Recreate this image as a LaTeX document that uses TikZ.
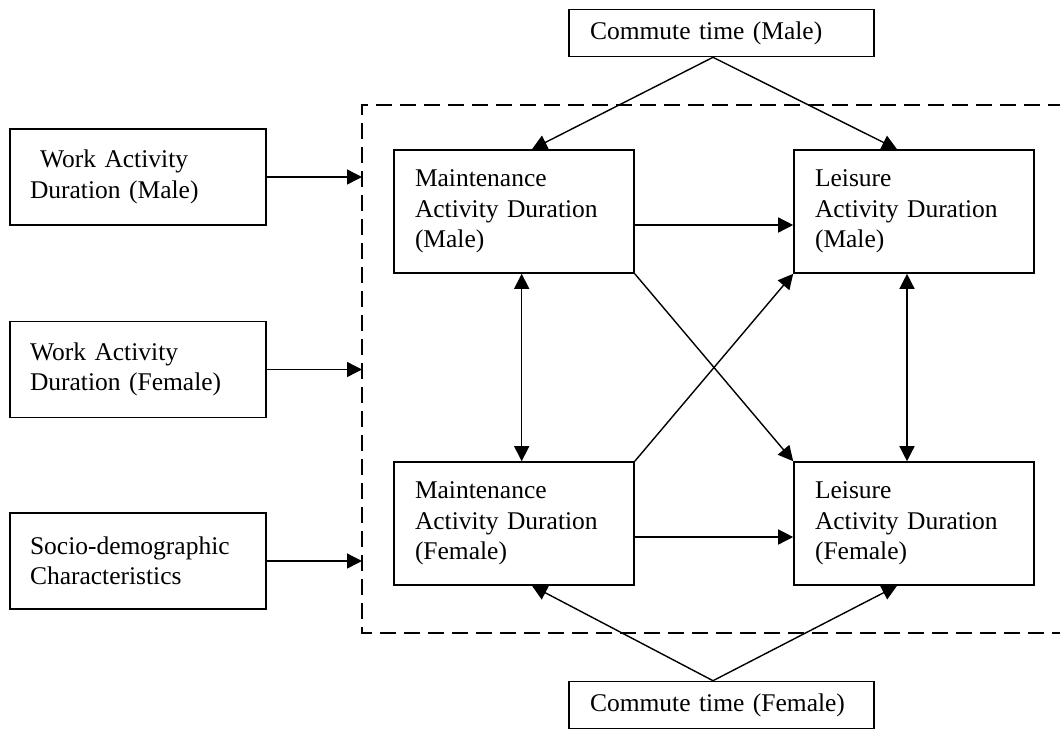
\documentclass[tikz,border=0pt]{standalone}
\usepackage{fontspec}
\setmainfont{Liberation Serif}
\usetikzlibrary{arrows.meta}
\begin{document}
\begin{tikzpicture}[x=1pt,y=-1pt,
  box/.style={draw, line width=1.6pt, align=left, inner ysep=0pt,
    font={\fontsize{25.5}{30.5}\selectfont\hyphenpenalty=10000}},
  midbox/.style={box, text width=198pt, inner xsep=21pt, minimum height=123pt},
  sidebox/.style={box, text width=216pt, inner xsep=20pt, minimum height=96pt},
  combox/.style={box, text width=263pt, inner xsep=21pt, minimum height=47pt},
  tipA/.tip={Triangle[length=15pt,width=15pt]},
  arr/.style={line width=1.4pt, -tipA},
  darr/.style={line width=1.4pt, tipA-tipA},
  dashframe/.style={line width=1.6pt, dash pattern=on 16pt off 8pt}]
\useasboundingbox (0,0) rectangle (1060,729);

% dashed frame
\draw[dashframe] (1064,105) -- (362,105) -- (362,633) -- (1064,633);
\coordinate (dashL) at (362,0);

% nodes
\node[combox] (cm) at (721.5,33) {Commute time (Male)};
\node[combox] (cf) at (721.5,705) {Commute time (Female)};

\node[sidebox] (wm) at (138,177) {\hspace*{10pt}Work Activity\\Duration (Male)};
\node[sidebox] (wf) at (138,369.5) {Work Activity\\Duration (Female)};
\node[sidebox] (sd) at (138,561) {Socio-demographic\\Characteristics};

\node[midbox] (mm) at (514,211.5) {Maintenance\\Activity Duration\\(Male)};
\node[midbox] (lm) at (914,211.5) {Leisure\\Activity Duration\\(Male)};
\node[midbox] (mf) at (514,523.5) {Maintenance\\Activity Duration\\(Female)};
\node[midbox] (lf) at (914,523.5) {Leisure\\Activity Duration\\(Female)};

% connectors
\draw[arr] (wm.east) -- (wm.east -| dashL);
\draw[arr] (wf.east) -- (wf.east -| dashL);
\draw[arr] (sd.east) -- (sd.east -| dashL);

\draw[arr] ([xshift=-8.5pt]cm.south) -- ([xshift=18pt]mm.north);
\draw[arr] ([xshift=-8.5pt]cm.south) -- ([xshift=-17pt]lm.north);
\draw[arr] ([xshift=-8.5pt]cf.north) -- ([xshift=18pt]mf.south);
\draw[arr] ([xshift=-8.5pt]cf.north) -- ([xshift=-17pt]lf.south);

\draw[arr] ([yshift=-13.5pt]mm.east) -- ([yshift=-13.5pt]lm.west);
\draw[arr] ([yshift=-13.5pt]mf.east) -- ([yshift=-13.5pt]lf.west);

\draw[darr] ([xshift=7.7pt]mm.south) -- ([xshift=7.7pt]mf.north);
\draw[darr] ([xshift=-7pt]lm.south) -- ([xshift=-7pt]lf.north);

\draw[arr] (mm.south east) -- (lf.north west);
\draw[arr] (mf.north east) -- (lm.south west);
\end{tikzpicture}
\end{document}
